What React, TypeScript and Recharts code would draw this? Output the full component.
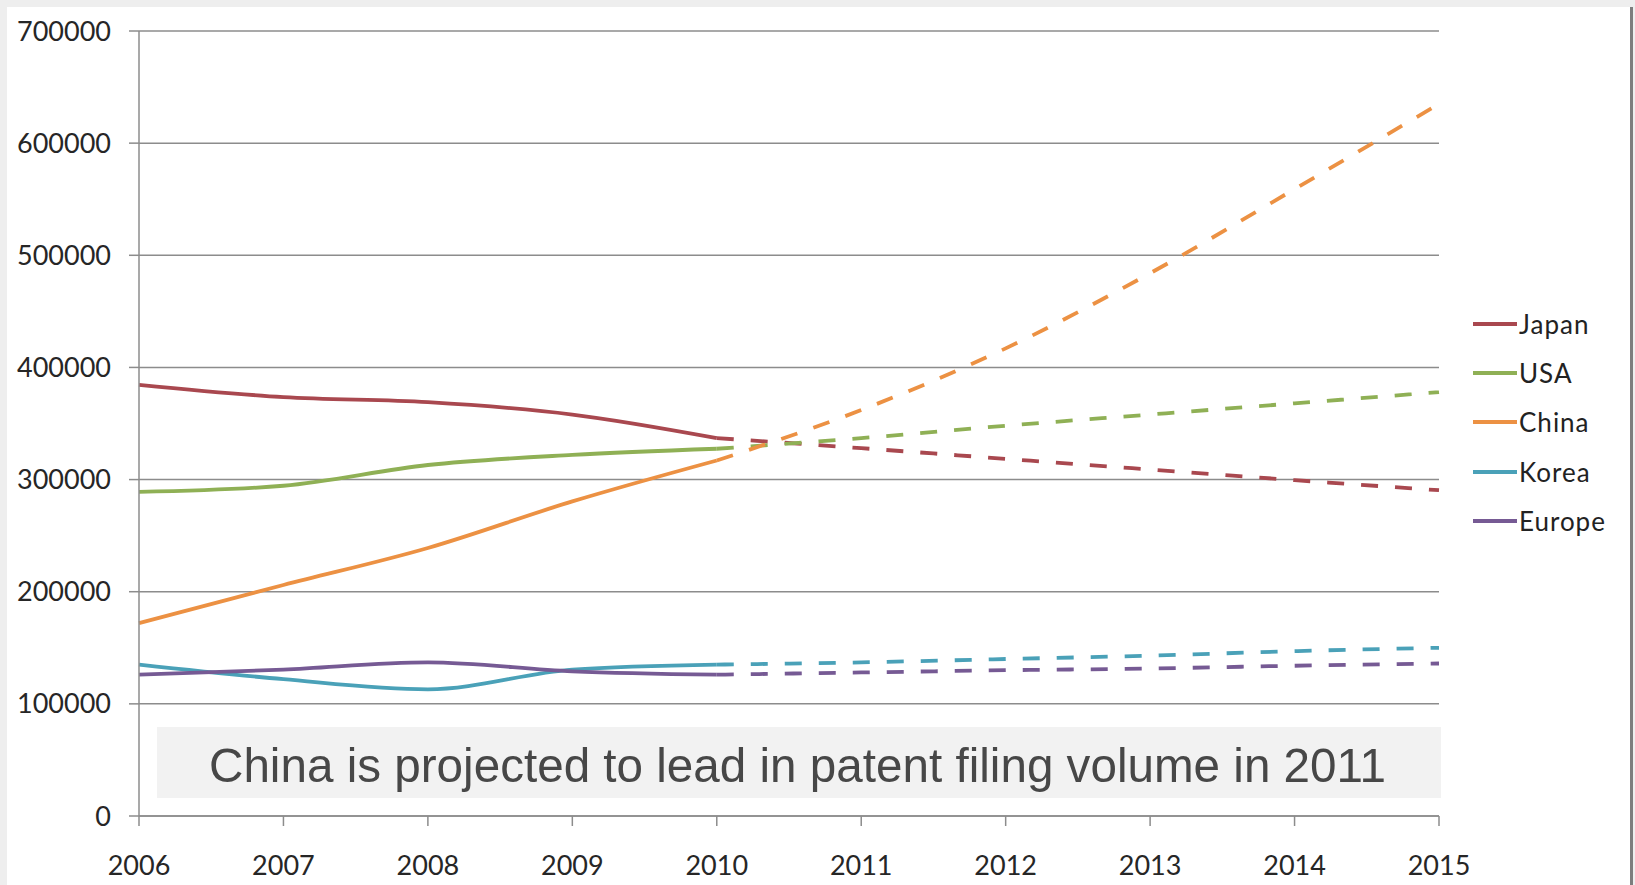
import React from "react";
import {
  LineChart,
  Line,
  XAxis,
  YAxis,
  CartesianGrid,
  Legend,
} from "recharts";

const YEARS = [2006, 2007, 2008, 2009, 2010, 2011, 2012, 2013, 2014, 2015];
const Y_TICKS = [0, 100000, 200000, 300000, 400000, 500000, 600000, 700000];

const SERIES_NAMES = ["Japan", "USA", "China", "Korea", "Europe"];
const SERIES_COLORS = ["#a9484f", "#8fb055", "#ec9143", "#4aa1b8", "#765a94"];

// 2006-2010 actual filings
const JAPAN = [384500, 373500, 369000, 358000, 337000];
const USA = [289000, 294500, 313000, 322000, 327500];
const CHINA = [172000, 206000, 239000, 280500, 317000];
const KOREA = [135000, 122000, 113000, 130500, 135000];
const EUROPE = [126000, 130500, 137000, 129000, 126000];

// 2010-2015 projection (dashed)
const JAPAN_FORECAST = [337000, 328000, 318500, 309000, 299500, 290500];
const USA_FORECAST = [327500, 337000, 348000, 358000, 368000, 378000];
const CHINA_FORECAST = [317000, 362000, 417000, 484000, 559000, 635000];
const KOREA_FORECAST = [135000, 137000, 140000, 143000, 147000, 150000];
const EUROPE_FORECAST = [126000, 128000, 130000, 131500, 134000, 136000];

const NOTE = "China is projected to lead in patent filing volume in 2011";

const ACTUAL = [JAPAN, USA, CHINA, KOREA, EUROPE];
const FORECAST = [JAPAN_FORECAST, USA_FORECAST, CHINA_FORECAST, KOREA_FORECAST, EUROPE_FORECAST];
const FORECAST_START = YEARS.length - JAPAN_FORECAST.length;

const data = YEARS.map((year, i) => {
  const row: Record<string, number | null> = { year };
  SERIES_NAMES.forEach((name, s) => {
    row[name] = i < ACTUAL[s].length ? ACTUAL[s][i] : null;
    row[name + "_f"] = i >= FORECAST_START ? FORECAST[s][i - FORECAST_START] : null;
  });
  return row;
});

const GRID = "#8c8c8c";
const tickStyle = { fontFamily: "Lato", fontSize: 27, fill: "#262626" };

const renderLegend = () => (
  <div style={{ fontFamily: "Lato", fontSize: 26, letterSpacing: 1, color: "#222" }}>
    {SERIES_NAMES.map((name, i) => (
      <div key={name} style={{ display: "flex", alignItems: "center", height: 49.4 }}>
        <span style={{ width: 44, height: 4, background: SERIES_COLORS[i], marginRight: 2 }} />
        <span style={{ lineHeight: 1, marginTop: 0 }}>{name}</span>
      </div>
    ))}
  </div>
);

export default function App() {
  return (
    <div
      style={{
        position: "absolute",
        left: 0,
        top: 0,
        width: 1635,
        height: 885,
        background: "#eeeeee",
        overflow: "hidden",
      }}
    >
      <div
        style={{
          position: "absolute",
          left: 7,
          top: 7,
          width: 1623,
          height: 878,
          background: "#ffffff",
          borderRight: "3px solid #7d7d7d",
        }}
      />
      <div style={{ position: "absolute", left: 0, top: 0 }}>
        <LineChart
          width={1635}
          height={885}
          data={data}
          margin={{ top: 31, right: 196, bottom: 0, left: 0 }}
        >
          <CartesianGrid horizontal vertical={false} stroke={GRID} strokeWidth={1.5} />
          <XAxis
            dataKey="year"
            type="number"
            domain={[2006, 2015]}
            ticks={YEARS}
            height={69}
            tickSize={10}
            tickMargin={30}
            axisLine={{ stroke: GRID, strokeWidth: 1.5 }}
            tickLine={{ stroke: GRID, strokeWidth: 1.5 }}
            tick={tickStyle}
            interval={0}
          />
          <YAxis
            type="number"
            domain={[0, 700000]}
            ticks={Y_TICKS}
            width={139}
            tickSize={10}
            tickMargin={18}
            axisLine={{ stroke: GRID, strokeWidth: 1.5 }}
            tickLine={{ stroke: GRID, strokeWidth: 1.5 }}
            tick={tickStyle}
            interval={0}
          />
          {SERIES_NAMES.map((name, i) => (
            <Line
              key={name}
              type="monotone"
              dataKey={name}
              stroke={SERIES_COLORS[i]}
              strokeWidth={3.8}
              dot={false}
              isAnimationActive={false}
            />
          ))}
          {SERIES_NAMES.map((name, i) => (
            <Line
              key={name + "_f"}
              type="monotone"
              dataKey={name + "_f"}
              stroke={SERIES_COLORS[i]}
              strokeWidth={3.8}
              strokeDasharray="17 17"
              dot={false}
              legendType="none"
              isAnimationActive={false}
            />
          ))}
          <Legend
            layout="vertical"
            align="center"
            verticalAlign="middle"
            content={renderLegend}
            wrapperStyle={{ left: 1473, top: 299, width: 160 }}
          />
        </LineChart>
      </div>
      <svg
        width={1635}
        height={885}
        style={{ position: "absolute", left: 0, top: 0, pointerEvents: "none" }}
      >
        <rect x={157} y={727} width={1284} height={71} fill="#f2f2f2" />
        <text
          x={209}
          y={782}
          textLength={1177}
          lengthAdjust="spacingAndGlyphs"
          fontFamily="'Liberation Sans Narrow', 'Liberation Sans', Arial, sans-serif"
          fontSize={49}
          fill="#474747"
        >
          {NOTE}
        </text>
      </svg>
    </div>
  );
}
